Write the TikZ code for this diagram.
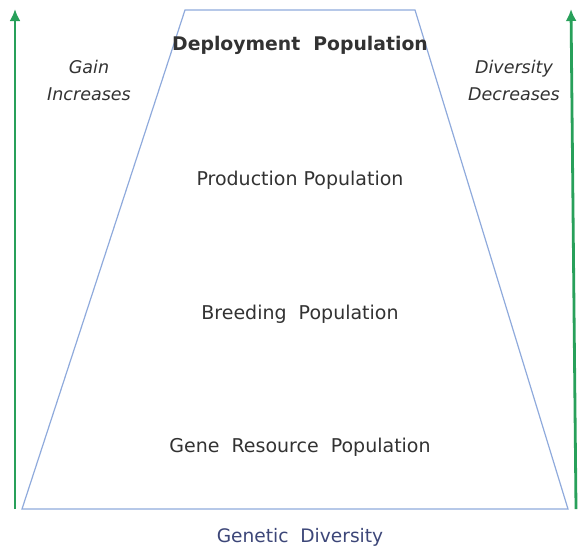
\documentclass[tikz,border=0pt]{standalone}
\usepackage{fontspec}
\setmainfont{DejaVu Sans}
\usetikzlibrary{arrows, arrows.meta, positioning}

\definecolor{trapblue}{RGB}{143,170,220}
\definecolor{arrowgreen}{RGB}{40,160,90}
\definecolor{txtgray}{RGB}{50,50,50}
\definecolor{axisblue}{RGB}{60,70,120}

\tikzset{
  poplabel/.style={text=txtgray, font=\fontsize{19}{22}\selectfont},
  sidelabel/.style={text=txtgray, font=\fontsize{17.5}{27}\selectfont\itshape, align=center},
  uparrow/.style={-{Latex[length=12pt,width=11pt]}, arrowgreen, line width=2.8pt}
}

\begin{document}
\begin{tikzpicture}[x=1pt, y=-1pt]
\useasboundingbox (0,0) rectangle (580,550);
% trapezoid
\coordinate (tl) at (185,10);
\coordinate (tr) at (415,10);
\coordinate (br) at (568,509);
\coordinate (bl) at (22,509);
\draw [trapblue, line width=1.2pt] (tl) -- (tr) -- (br) -- (bl) -- cycle;

% green arrows
\coordinate (lb) at (15,509);
\coordinate (lt) at (15,9);
\coordinate (rb) at (576,509);
\coordinate (rt) at (571,9);
\draw [uparrow] (lb) -- (lt);
\draw [uparrow] (rb) -- (rt);

% population labels
\node[poplabel, font=\fontsize{18.8}{22}\selectfont\bfseries] (deploy) at (300,45) {Deployment\ \ Population};
\node[poplabel] (prod) at (300,180) {Production Population};
\node[poplabel] (breed) at (300,314) {Breeding\ \ Population};
\node[poplabel] (gene) at (300,447) {Gene\ \ Resource\ \ Population};

% side labels
\node[sidelabel] (gain) at (89,80) {Gain\\Increases};
\node[sidelabel] (div) at (514,80) {Diversity\\Decreases};

\node[poplabel, text=axisblue, font=\fontsize{18.6}{22}\selectfont] (gendiv) at (300,537) {Genetic\ \ Diversity};
\end{tikzpicture}
\end{document}
